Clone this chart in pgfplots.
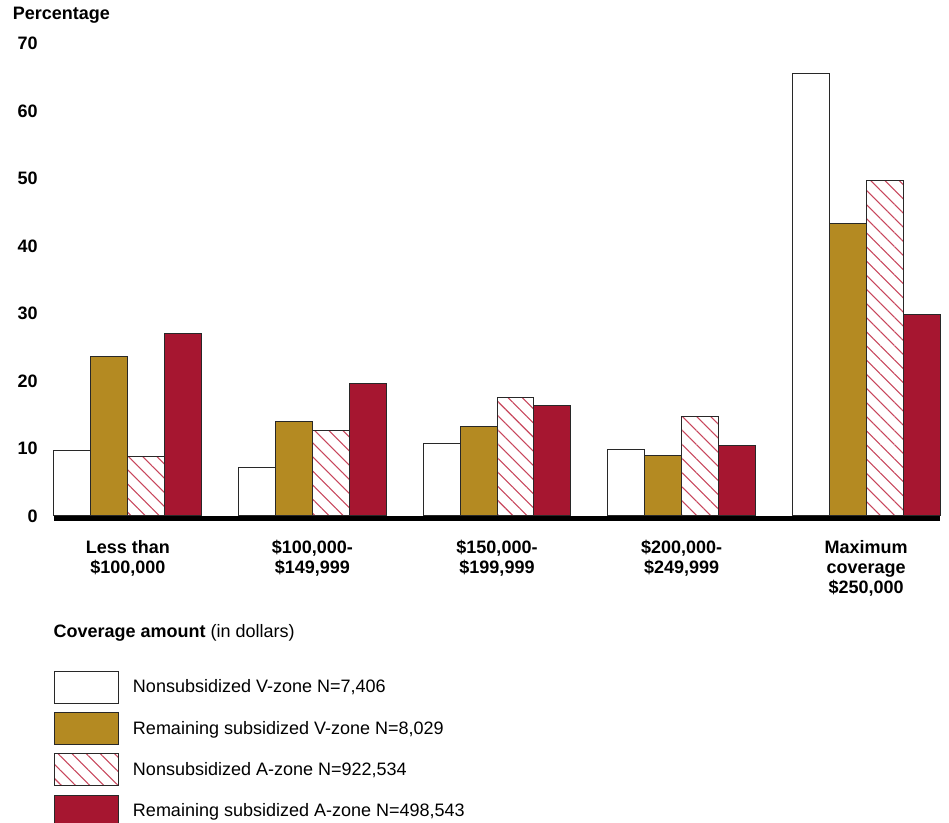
\documentclass[border=0pt]{standalone}
\usepackage{pgfplots}
\pgfplotsset{compat=1.18}
\usetikzlibrary{patterns.meta}
\usepackage{fontspec}
\setmainfont{Liberation Sans}
\definecolor{gold}{RGB}{180,138,34}
\definecolor{crim}{RGB}{166,22,48}
\definecolor{hatchred}{RGB}{200,70,92}
\definecolor{edge}{RGB}{40,40,40}
\pgfplotsset{legbox/.style={legend image code/.code={\draw[##1] (0pt,-11.85pt) rectangle (48pt,11.85pt);}}}
\begin{document}
\begin{tikzpicture}
\useasboundingbox (-40.5pt,-230.25pt) rectangle (671.25pt,387pt);
\begin{axis}[
  name=ax,
  at={(0,0)}, anchor=south west,
  scale only axis,
  width=664.5pt, height=354.4pt,
  xmin=-0.4, xmax=4.4, ymin=0, ymax=70,
  ybar, bar width=0.2,
  axis on top,
  axis x line*=bottom,
  axis y line*=left,
  x axis line style={line width=3.75pt, black, -, yshift=-1.6pt},
  y axis line style={draw=none},
  tick style={draw=none},
  major tick length=0pt,
  ytick={0,10,...,70},
  xtick={0,1,2,3,4},
  xticklabels={{Less than\\\$100,000},{\$100,000-\\\$149,999},{\$150,000-\\\$199,999},{\$200,000-\\\$249,999},{Maximum\\coverage\\\$250,000}},
  /pgf/number format/assume math mode=true,
  tick label style={font=\bfseries\fontsize{13.5}{15}\selectfont},
  yticklabel style={anchor=east, inner sep=0pt, xshift=-12pt},
  xticklabel style={anchor=north, inner sep=0pt, yshift=-18pt, align=center},
  legend style={at={(axis description cs:0,0)}, anchor=north west,
    xshift=-0.5pt, yshift=-116pt, draw=none, fill=none, inner sep=0pt,
    row sep=6.5pt, font=\fontsize{13.5}{16}\selectfont,
    nodes={inner sep=0pt},
    /tikz/every odd column/.append style={column sep=10.8pt}},
  legend cell align=left,
  clip=false,
]
\addplot[bar shift=-0.3, fill=white, draw=edge, line width=0.75pt, legbox]
  coordinates {(0,9.7) (1,7.2) (2,10.8) (3,9.8) (4,65.6)};
\addplot[bar shift=-0.1, fill=gold, draw=edge, line width=0.75pt, legbox]
  coordinates {(0,23.7) (1,14.0) (2,13.3) (3,9.0) (4,43.3)};
\addplot[bar shift=0.1, fill=white, draw=edge, line width=0.75pt,
  postaction={pattern={Lines[angle=-45,distance=7.5pt,line width=0.8pt]}, pattern color=hatchred}, legbox]
  coordinates {(0,8.8) (1,12.6) (2,17.6) (3,14.7) (4,49.7)};
\addplot[bar shift=0.3, fill=crim, draw=edge, line width=0.75pt, legbox]
  coordinates {(0,27.0) (1,19.7) (2,16.3) (3,10.5) (4,29.9)};
\legend{{Nonsubsidized V-zone N=7,406}, {Remaining subsidized V-zone N=8,029}, {Nonsubsidized A-zone N=922,534}, {Remaining subsidized A-zone N=498,543}}
\end{axis}
\node[anchor=west, inner sep=0pt, font=\bfseries\fontsize{13.5}{16}\selectfont] at ([shift={(-31pt,375.75pt)}]ax.south west) {Percentage};
\node[anchor=west, inner sep=0pt, font=\fontsize{13.5}{16}\selectfont] at ([shift={(-0.5pt,-88pt)}]ax.south west) {\textbf{Coverage amount} (in dollars)};
\end{tikzpicture}
\end{document}
